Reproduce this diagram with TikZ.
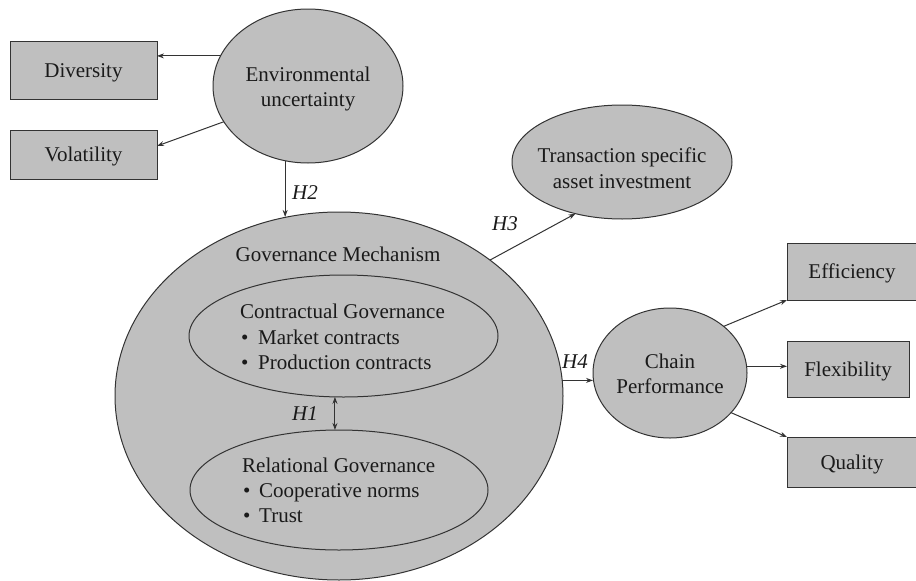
\documentclass[tikz,border=0pt]{standalone}
\usepackage{fontspec}
\setmainfont{Liberation Serif}
\usetikzlibrary{shapes.geometric,arrows.meta}
\definecolor{fillg}{HTML}{BFBFBF}
\definecolor{lineg}{HTML}{333333}
\definecolor{txtc}{HTML}{1A1A1A}
\begin{document}
\begin{tikzpicture}[x=1pt,y=-1pt,
 every node/.style={font=\fontsize{21}{25.5}\selectfont, text=txtc},
 ell/.style={ellipse, draw=lineg, fill=fillg, line width=1pt, inner sep=0pt, outer sep=0pt},
 box/.style={rectangle, draw=lineg, fill=fillg, line width=1pt, inner sep=0pt, outer sep=0pt, text height=14pt, text depth=0pt},
 ltxt/.style={align=center, inner sep=0pt},
 arr/.style={draw=lineg, line width=1pt, -{Stealth[length=7pt,width=5pt]}},
 dbl/.style={draw=lineg, line width=1pt, {Stealth[length=7pt,width=5pt]}-{Stealth[length=7pt,width=5pt]}},
 hyp/.style={font=\fontsize{21}{25.5}\selectfont\itshape, anchor=base, inner sep=0pt},
 lin/.style={anchor=base west, inner sep=0pt}
]
\useasboundingbox (0,0) rectangle (916,581);

% boxes
\node[box, minimum width=147pt, minimum height=58pt] (div) at (83.5,70) {Diversity};
\node[box, minimum width=147pt, minimum height=49pt] (vol) at (83.5,154.5) {Volatility};
\node[box, minimum width=130pt, minimum height=57pt] (eff) at (852,271.5) {Efficiency};
\node[box, minimum width=122pt, minimum height=56pt] (flex) at (848,369) {Flexibility};
\node[box, minimum width=130pt, minimum height=50pt] (qual) at (852,462) {Quality};

% ellipses
\node[ell, minimum width=190pt, minimum height=154pt] (env) at (308,86) {};
\node[ltxt] (envt) at (308,89) {Environmental\\uncertainty};

\node[ell, minimum width=220pt, minimum height=114pt] (tsai) at (622,162) {};
\node[ltxt] (tsait) at (622,168) {Transaction specific\\asset investment};

\node[ell, minimum width=154pt, minimum height=130pt] (cp) at (670,373) {};
\node[ltxt] (cpt) at (670,374) {Chain\\Performance};

\node[ell, minimum width=448pt, minimum height=368pt] (gm) at (339,396) {};
\node[hyp, font=\fontsize{21}{25.5}\selectfont] (gmt) at (338,261) {Governance Mechanism};

\node[ell, minimum width=309pt, minimum height=122pt] (cg) at (343.5,336) {};
\node[lin] (cg1) at (240,318) {Contractual Governance};
\node[lin] (cgb1) at (241,344) {\textbullet};
\node[lin] (cg2) at (258,344) {Market contracts};
\node[lin] (cgb2) at (241,369) {\textbullet};
\node[lin] (cg3) at (258,369) {Production contracts};

\node[ell, minimum width=298pt, minimum height=120pt] (rg) at (339,490) {};
\node[lin] (rg1) at (242,472) {Relational Governance};
\node[lin] (rgb1) at (243,497) {\textbullet};
\node[lin] (rg2) at (259,497) {Cooperative norms};
\node[lin] (rgb2) at (243,522) {\textbullet};
\node[lin] (rg3) at (259,522) {Trust};

% connectors
\draw[arr] (env.161.8) -- (env.161.8 -| div.east);
\draw[arr] (env.203.2) -- ([yshift=8.5pt]vol.east);
\draw[arr] (env.253.7) -- (env.253.7 |- gm.106.5);
\draw[arr] (gm.42.6) -- (tsai.228.6);
\draw[arr] (gm.4.1) -- (gm.4.1 -| cp.west);
\draw[dbl] (cg.262.1) -- (cg.262.1 |- rg.north);
\draw[arr] (cp.41.7) -- (eff.south west);
\draw[arr] (cp.5.9) -- (cp.5.9 -| flex.west);
\draw[arr] (cp.327) -- (qual.north west);

% hypothesis labels
\node[hyp] (h2) at (305,199) {H2};
\node[hyp] (h3) at (505,230) {H3};
\node[hyp] (h4) at (575,368) {H4};
\node[hyp] (h1) at (305,420) {H1};
\end{tikzpicture}
\end{document}
